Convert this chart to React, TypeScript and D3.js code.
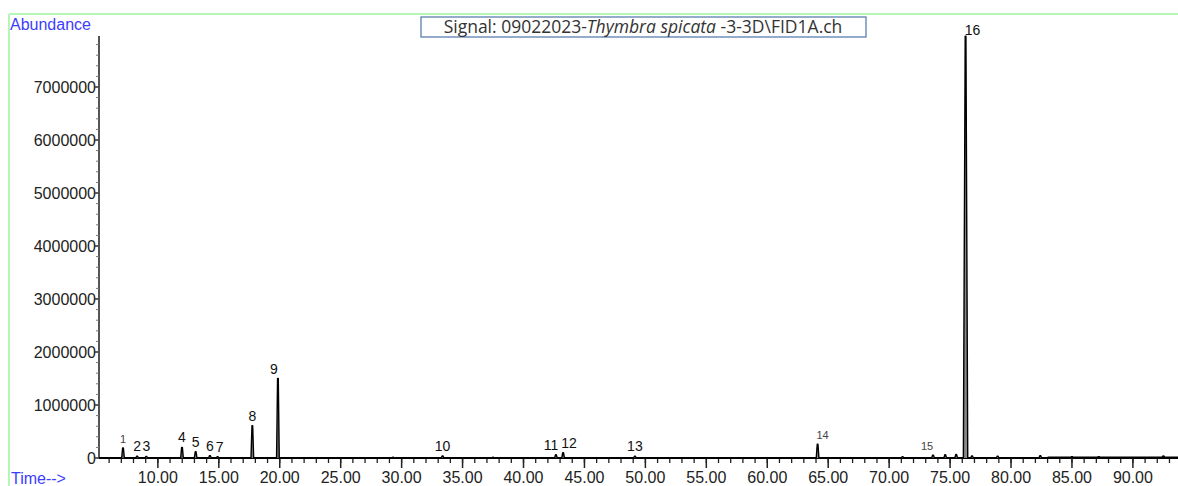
import React from "react";
import * as d3 from "d3";

// retention time (min) and abundance of labelled peaks
const peakLabels = ["1", "2", "3", "4", "5", "6", "7", "8", "9", "10", "11", "12", "13", "14", "15", "16"];
const peakTimes = [7.14, 8.3, 9.05, 11.98, 13.1, 14.27, 14.9, 17.75, 19.85, 33.36, 42.66, 43.25, 49.14, 64.13, 73.6, 76.27];
const peakHeights = [190000, 35000, 30000, 200000, 120000, 45000, 25000, 610000, 1500000, 40000, 60000, 100000, 35000, 260000, 55000, 7960000];

// small unlabelled peaks
const minorTimes = [29.3, 37.5, 71.1, 74.6, 75.5, 76.8, 78.9, 82.4, 85.0, 87.2, 92.5];
const minorHeights = [15000, 15000, 25000, 60000, 65000, 40000, 35000, 45000, 25000, 25000, 40000];

const xTickLabels = ["10.00", "15.00", "20.00", "25.00", "30.00", "35.00", "40.00", "45.00", "50.00", "55.00", "60.00", "65.00", "70.00", "75.00", "80.00", "85.00", "90.00"];
const yTickValues = [0, 1000000, 2000000, 3000000, 4000000, 5000000, 6000000, 7000000];

// label nudges (px) and small-font labels
const labelNudge: Record<string, number> = { "7": 2, "9": -4, "11": -5, "12": 6, "14": 5, "15": -6, "16": 7 };
const labelLift: Record<string, number> = { "16": 1 };
const smallLabels = ["1", "14", "15"];

const W = 1178;
const H = 486;
const font = "Arial, 'Liberation Sans', sans-serif";

const App = () => {
  const x = d3.scaleLinear().domain([5.17, 93.7]).range([99, 1178]);
  const y = d3.scaleLinear().domain([0, 7000000]).range([458, 87]);

  const allPeaks = peakTimes
    .map((t, i) => ({ t, h: peakHeights[i] }))
    .concat(minorTimes.map((t, i) => ({ t, h: minorHeights[i] })))
    .sort((a, b) => a.t - b.t);

  // trace: baseline with narrow peaks
  const pts: [number, number][] = [[5.17, 0]];
  allPeaks.forEach((p) => {
    const hw = p.h > 5000000 ? 0.18 : 0.11;
    pts.push([p.t - hw, 0], [p.t - 0.03, p.h], [p.t + 0.03, p.h], [p.t + hw, 0]);
  });
  pts.push([93.7, 0]);
  const line = d3
    .line<[number, number]>()
    .x((d) => x(d[0]))
    .y((d) => y(d[1]));

  const minorX = d3.range(6, 94, 1);
  const minorY = d3.range(0, 8000000, 200000);

  return (
    <svg width={W} height={H} style={{ position: "absolute", left: 0, top: 0, background: "#fff" }}>
      {/* green frame */}
      <line x1={9} x2={W} y1={14} y2={14} stroke="#b5f5b5" strokeWidth={2} />
      <line x1={9} x2={9} y1={14} y2={H} stroke="#b5f5b5" strokeWidth={2} />

      <text x={10} y={30} fontFamily={font} fontSize={16} fill="#3c3cff">Abundance</text>
      <text x={11} y={484} fontFamily={font} fontSize={16} fill="#3c3cff">Time--&gt;</text>

      {/* title */}
      <rect x={421} y={17} width={445} height={20} fill="#fff" stroke="#4f74a8" strokeWidth={1.2} />
      <text x={643} y={33} textAnchor="middle" fontFamily="'Open Sans', sans-serif" fontSize={17.5} fill="#333">
        Signal: 09022023-<tspan fontStyle="italic">Thymbra spicata</tspan> -3-3D\FID1A.ch
      </text>

      {/* y axis */}
      <line x1={99} x2={99} y1={36} y2={458} stroke="#555" strokeWidth={2} />
      {minorY.map((v) => (
        <line key={v} x1={96} x2={99} y1={y(v)} y2={y(v)} stroke="#777" strokeWidth={1} />
      ))}
      {yTickValues.map((v) => (
        <g key={v}>
          <line x1={95} x2={99} y1={y(v)} y2={y(v)} stroke="#444" strokeWidth={1.5} />
          <text x={96} y={y(v) + 5.5} textAnchor="end" fontFamily={font} fontSize={16} fill="#222">
            {v}
          </text>
        </g>
      ))}

      {/* x axis */}
      <line x1={99} x2={W} y1={458} y2={458} stroke="#000" strokeWidth={2} />
      {minorX.map((t) => (
        <line key={t} x1={x(t)} x2={x(t)} y1={458} y2={463} stroke="#222" strokeWidth={1.3} />
      ))}
      {xTickLabels.map((s) => (
        <g key={s}>
          <line x1={x(+s)} x2={x(+s)} y1={458} y2={468} stroke="#222" strokeWidth={1.5} />
          <text x={x(+s)} y={483} textAnchor="middle" fontFamily={font} fontSize={16} fill="#222">
            {s}
          </text>
        </g>
      ))}

      {/* trace */}
      <path d={line(pts) || ""} fill="#888" stroke="#000" strokeWidth={1.4} strokeLinejoin="round" />
      <path d={line([[83, 15000], [93.7, 15000]]) || ""} fill="none" stroke="#000" strokeWidth={1.5} />

      {/* peak labels */}
      {peakLabels.map((lab, i) => {
        const small = smallLabels.includes(lab);
        const lift = labelLift[lab] ?? 5;
        return (
          <text
            key={lab}
            x={x(peakTimes[i]) + (labelNudge[lab] || 0)}
            y={Math.min(y(peakHeights[i]) - lift, 452)}
            textAnchor="middle"
            fontFamily={font}
            fontSize={small ? 11 : 14}
            fill={small ? "#444" : "#111"}
          >
            {lab}
          </text>
        );
      })}
    </svg>
  );
};

export default App;
